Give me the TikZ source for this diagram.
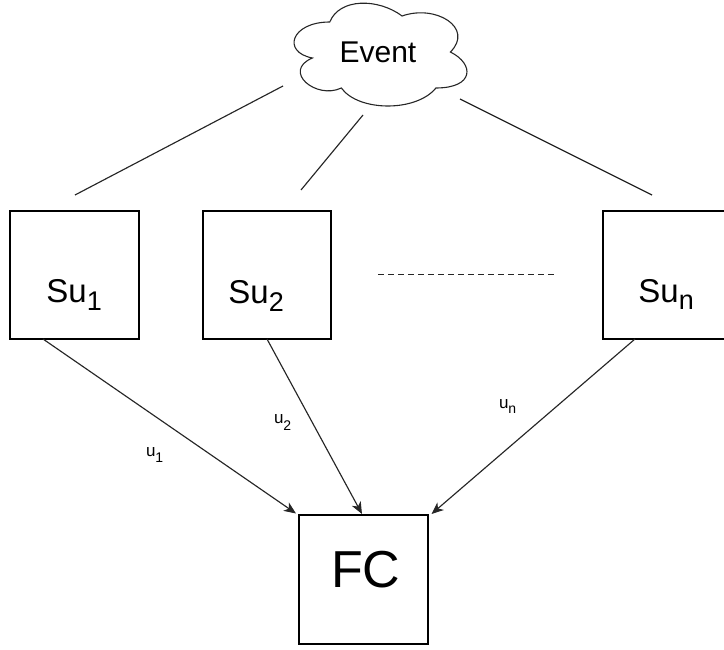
\documentclass[tikz,border=0pt]{standalone}
\usepackage{fontspec}
\setmainfont{Liberation Sans}
\usetikzlibrary{arrows.meta,calc}

\tikzset{
  box/.style={draw=black, line width=1.3pt, rectangle, inner sep=0pt, outer sep=0pt},
  txt/.style={inner sep=0pt, outer sep=0pt, anchor=base west},
  link/.style={draw=black!85, line width=1.15pt},
  flow/.style={link, -{Stealth[length=12pt,width=10pt,inset=3.5pt]}},
}
% subscripted label: #1 main size, #2 subscript size, #3 drop, #4 base, #5 index
\newcommand{\sublabel}[5]{{\fontsize{#1}{#1}\selectfont #4}{\fontsize{#2}{#2}\selectfont\raisebox{-#3}{#5}}}

\begin{document}
\begin{tikzpicture}[x=1pt, y=-1pt]
  \useasboundingbox (0,0) rectangle (724,650);
  \clip (0,0) rectangle (724,650);

  % event cloud
  \draw[line width=1.1pt, draw=black!85]
    (329.75,22) .. controls (291.15,22) and (281.5,52) .. (312.38,58)
    .. controls (281.5,71.2) and (316.24,100) .. (341.33,88)
    .. controls (358.7,112) and (416.6,112) .. (435.9,88)
    .. controls (474.5,88) and (474.5,64) .. (450.4,52)
    .. controls (474.5,28) and (435.9,4) .. (402.1,16)
    .. controls (378,-2) and (339.4,-2) .. (329.75,22) -- cycle;
  \node[txt] (event) at (339.6,63) {\fontsize{30}{30}\selectfont Event};

  % sensor units
  \node[box, minimum width=129pt, minimum height=128pt] (su1) at (74.5,275) {};
  \node[box, minimum width=128pt, minimum height=128pt] (su2) at (267,275) {};
  \node[box, minimum width=130pt, minimum height=128pt] (sun) at (668,275) {};
  \node[txt] (su1t) at (46.4,303) {\sublabel{33}{27}{7pt}{Su}{1}};
  \node[txt] (su2t) at (228.4,304) {\sublabel{33}{27}{8pt}{Su}{2}};
  \node[txt] (sunt) at (638.4,303) {\sublabel{33}{27}{6pt}{Su}{n}};

  % fusion centre
  \node[box, minimum width=129pt, minimum height=129pt] (fc) at (363.5,579.5) {};
  \node[txt] (fct) at (331,587) {\fontsize{52}{52}\selectfont FC};

  % event to sensor units
  \coordinate (e1) at (283,86);
  \coordinate (e2) at (363,115);
  \coordinate (e3) at (460,99);
  \coordinate (s1) at (75,195);
  \coordinate (s2) at (301,190);
  \coordinate (s3) at (652,195);
  \draw[link] (e1) -- (s1);
  \draw[link] (e2) -- (s2);
  \draw[link] (e3) -- (s3);

  % ellipsis between sensor units
  \coordinate (d1) at (378,275);
  \coordinate (d2) at (557,275);
  \draw[link, line width=1pt, dash pattern=on 6pt off 4pt] (d1) -- (d2);

  % decisions sent to the fusion centre
  \draw[flow] ($(su1.south west)+(33,0)$) -- ($(fc.north west)+(-3,-1.5)$);
  \draw[flow] (su2.south) -- ($(fc.north)+(-1.5,-1)$);
  \draw[flow] ($(sun.south west)+(32,0)$) -- ($(fc.north east)+(3.5,-1)$);

  \node[txt] (u1) at (146,456) {\sublabel{17}{14}{6pt}{u}{1}};
  \node[txt] (u2) at (274,423) {\sublabel{17}{14}{7pt}{u}{2}};
  \node[txt] (un) at (499,408) {\sublabel{17}{14}{5pt}{u}{n}};
\end{tikzpicture}
\end{document}
